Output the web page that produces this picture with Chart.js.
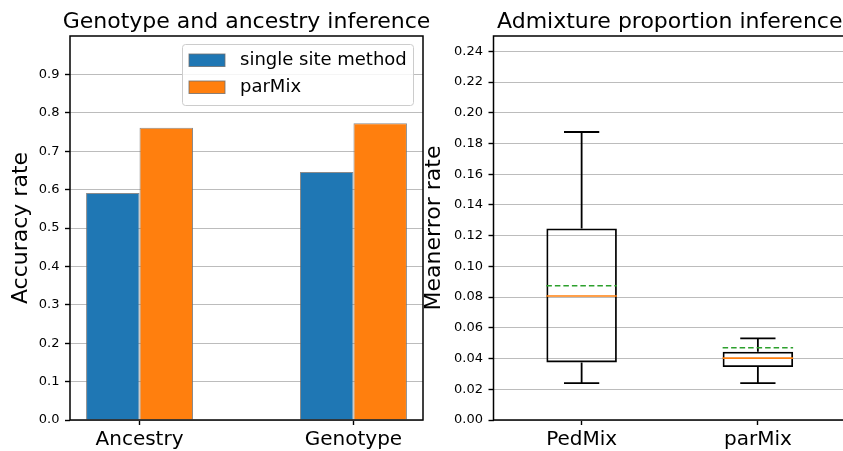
<!DOCTYPE html>
<html>
<head>
<meta charset="utf-8">
<script src="https://cdn.jsdelivr.net/npm/chart.js@4"></script>
<style>
  html, body { margin:0; padding:0; background:#fff; width:843px; height:451px; overflow:hidden; }
  #wrap { position:relative; width:843px; height:451px; overflow:hidden; }
  canvas { position:absolute; top:0; }
  #c1 { left:0; }
  #c2 { left:420px; }
</style>
</head>
<body>
<div id="wrap">
  <canvas id="c1" width="432" height="451"></canvas>
  <canvas id="c2" width="430" height="451"></canvas>
</div>
<script>
// ---- data: left panel (bars) ----
const barCategories = ['Ancestry', 'Genotype'];
const seriesNames = ['single site method', 'parMix'];
const singleSiteAcc = [0.591, 0.646];
const parMixAcc = [0.761, 0.773];
const accTicks = [0.0, 0.1, 0.2, 0.3, 0.4, 0.5, 0.6, 0.7, 0.8, 0.9];

// ---- data: right panel (box plots) ----
const boxCategories = ['PedMix', 'parMix'];
const whiskerLow = [0.024, 0.024];
const quart1 = [0.0375, 0.0345];
const medians = [0.0807, 0.0403];
const means = [0.0874, 0.0470];
const quart3 = [0.1247, 0.0444];
const whiskerHigh = [0.1875, 0.0531];
const errTicks = [0.00, 0.02, 0.04, 0.06, 0.08, 0.10, 0.12, 0.14, 0.16, 0.18, 0.20, 0.22, 0.24];

const FONT = 'DejaVu Sans';
const BLUE = '#1f77b4', ORANGE = '#ff7f0e', GREEN = '#2ca02c';
const GRID = '#bcbcbc';

// plugin: title over chart area + frame
function frameTitlePlugin(text) {
  return {
    id: 'frameTitle',
    afterDatasetsDraw(chart) {
      const {ctx, chartArea: a} = chart;
      ctx.save();
      ctx.strokeStyle = '#000';
      ctx.lineWidth = 1.5;
      ctx.strokeRect(a.left, a.top, a.right - a.left, a.bottom - a.top);
      ctx.fillStyle = '#000';
      ctx.font = '22px "' + FONT + '"';
      ctx.textAlign = 'center';
      ctx.textBaseline = 'alphabetic';
      ctx.fillText(text, (a.left + a.right) / 2, 28);
      ctx.restore();
    }
  };
}

// plugin: legend inside top-right of chart area
const innerLegend = {
  id: 'innerLegend',
  afterDraw(chart) {
    const {ctx, chartArea: a} = chart;
    const right = a.right - 10, top = a.top + 8;
    const w = 231, h = 61;
    const left = right - w;
    ctx.save();
    ctx.fillStyle = 'rgba(255,255,255,0.85)';
    ctx.strokeStyle = '#cccccc';
    ctx.lineWidth = 1;
    ctx.beginPath();
    ctx.roundRect(left + 0.5, top + 0.5, w, h, 3);
    ctx.fill();
    ctx.stroke();
    ctx.font = '18px "' + FONT + '"';
    ctx.textBaseline = 'middle';
    ctx.textAlign = 'left';
    chart.data.datasets.forEach((ds, i) => {
      const cy = top + 16 + i * 27;
      ctx.fillStyle = ds.backgroundColor;
      ctx.fillRect(left + 7, cy - 6, 36, 12.5);
      ctx.strokeStyle = 'rgba(110,110,110,0.8)';
      ctx.strokeRect(left + 7, cy - 6, 36, 12.5);
      ctx.fillStyle = '#000';
      ctx.fillText(ds.label, left + 58, cy);
    });
    ctx.restore();
  }
};

// plugin: whiskers, caps, medians, means
const boxExtras = {
  id: 'boxExtras',
  afterDatasetsDraw(chart) {
    const {ctx} = chart;
    const xs = chart.scales.x, ys = chart.scales.y;
    const meta = chart.getDatasetMeta(0);
    ctx.save();
    boxCategories.forEach((c, i) => {
      const el = meta.data[i];
      const x = xs.getPixelForValue(i + 1);
      const half = el.width / 2;
      const capHalf = half / 2;
      const yLo = ys.getPixelForValue(whiskerLow[i]);
      const yQ1 = ys.getPixelForValue(quart1[i]);
      const yQ3 = ys.getPixelForValue(quart3[i]);
      const yHi = ys.getPixelForValue(whiskerHigh[i]);
      ctx.strokeStyle = '#000';
      ctx.lineWidth = 1.8;
      ctx.setLineDash([]);
      ctx.beginPath();
      ctx.moveTo(x, yQ1); ctx.lineTo(x, yLo);
      ctx.moveTo(x, yQ3); ctx.lineTo(x, yHi);
      ctx.moveTo(x - capHalf, yLo); ctx.lineTo(x + capHalf, yLo);
      ctx.moveTo(x - capHalf, yHi); ctx.lineTo(x + capHalf, yHi);
      ctx.stroke();
      // median
      const yMed = ys.getPixelForValue(medians[i]);
      ctx.strokeStyle = ORANGE;
      ctx.lineWidth = 1.6;
      ctx.beginPath();
      ctx.moveTo(x - half, yMed); ctx.lineTo(x + half, yMed);
      ctx.stroke();
      // mean
      const yMean = ys.getPixelForValue(means[i]);
      ctx.strokeStyle = GREEN;
      ctx.setLineDash([5.5, 3]);
      ctx.beginPath();
      ctx.moveTo(x - half, yMean); ctx.lineTo(x + half, yMean);
      ctx.stroke();
    });
    ctx.restore();
  }
};

Chart.defaults.font.family = FONT;
Chart.defaults.color = '#000';

// ---- left chart ----
new Chart(document.getElementById('c1'), {
  type: 'bar',
  data: {
    datasets: [
      {
        label: seriesNames[0],
        data: singleSiteAcc.map((v, i) => ({x: i, y: v})),
        backgroundColor: BLUE,
        borderColor: 'rgba(110,110,110,0.8)',
        borderWidth: 1,
        categoryPercentage: 0.5,
        barPercentage: 1.0
      },
      {
        label: seriesNames[1],
        data: parMixAcc.map((v, i) => ({x: i, y: v})),
        backgroundColor: ORANGE,
        borderColor: 'rgba(110,110,110,0.8)',
        borderWidth: 1,
        categoryPercentage: 0.5,
        barPercentage: 1.0
      }
    ]
  },
  options: {
    responsive: false,
    animation: false,
    events: [],
    layout: { padding: { left: 0, right: 9, top: 36, bottom: 0 } },
    plugins: { legend: { display: false }, tooltip: { enabled: false } },
    scales: {
      x: {
        type: 'linear',
        offset: false,
        min: -0.325, max: 1.325,
        afterBuildTicks: (s) => { s.ticks = barCategories.map((c, i) => ({value: i})); },
        afterFit: (s) => { s.height = 31; },
        ticks: {
          autoSkip: false, maxRotation: 0,
          font: { size: 20 }, color: '#000', padding: 3,
          callback: (v, i) => barCategories[i]
        },
        grid: { offset: false, drawOnChartArea: false, drawTicks: true, tickLength: 5, tickColor: '#000', tickWidth: 1.4 },
        border: { display: false }
      },
      y: {
        type: 'linear',
        min: 0, max: 1.0,
        afterBuildTicks: (s) => { s.ticks = accTicks.map(v => ({value: v})); },
        afterFit: (s) => { s.width = 70; },
        ticks: {
          autoSkip: false, font: { size: 13 }, color: '#000', padding: 5.5,
          callback: (v) => v.toFixed(1)
        },
        grid: { color: GRID, lineWidth: 1, drawTicks: true, tickLength: 5, tickColor: '#000', tickWidth: 1.4 },
        border: { display: false },
        title: { display: true, text: 'Accuracy rate', font: { size: 22 }, color: '#000', padding: { top: 8, bottom: 0 } }
      }
    }
  },
  plugins: [frameTitlePlugin('Genotype and ancestry inference'), innerLegend]
});

// ---- right chart ----
new Chart(document.getElementById('c2'), {
  type: 'bar',
  data: {
    datasets: [
      {
        label: 'box',
        data: boxCategories.map((c, i) => ({x: i + 1, y: [quart1[i], quart3[i]]})),
        backgroundColor: 'rgba(0,0,0,0)',
        borderColor: '#000',
        borderWidth: 1.8,
        borderSkipped: false,
        categoryPercentage: 0.4,
        barPercentage: 1.0
      }
    ]
  },
  options: {
    responsive: false,
    animation: false,
    events: [],
    layout: { padding: { left: 0, right: 4, top: 36, bottom: 0 } },
    plugins: { legend: { display: false }, tooltip: { enabled: false } },
    scales: {
      x: {
        type: 'linear',
        offset: false,
        min: 0.5, max: 2.5,
        afterBuildTicks: (s) => { s.ticks = boxCategories.map((c, i) => ({value: i + 1})); },
        afterFit: (s) => { s.height = 31; },
        ticks: {
          autoSkip: false, maxRotation: 0,
          font: { size: 20 }, color: '#000', padding: 3,
          callback: (v, i) => boxCategories[i]
        },
        grid: { offset: false, drawOnChartArea: false, drawTicks: true, tickLength: 5, tickColor: '#000', tickWidth: 1.4 },
        border: { display: false }
      },
      y: {
        type: 'linear',
        min: 0, max: 0.25,
        afterBuildTicks: (s) => { s.ticks = errTicks.map(v => ({value: v})); },
        afterFit: (s) => { s.width = 73.5; },
        ticks: {
          autoSkip: false, font: { size: 13 }, color: '#000', padding: 5.5,
          callback: (v) => v.toFixed(2)
        },
        grid: { color: GRID, lineWidth: 1, drawTicks: true, tickLength: 5, tickColor: '#000', tickWidth: 1.4 },
        border: { display: false },
        title: { display: true, text: 'Meanerror rate', font: { size: 22 }, color: '#000', padding: { top: 0.7, bottom: 0 } }
      }
    }
  },
  plugins: [frameTitlePlugin('Admixture proportion inference'), boxExtras]
});
</script>
</body>
</html>
